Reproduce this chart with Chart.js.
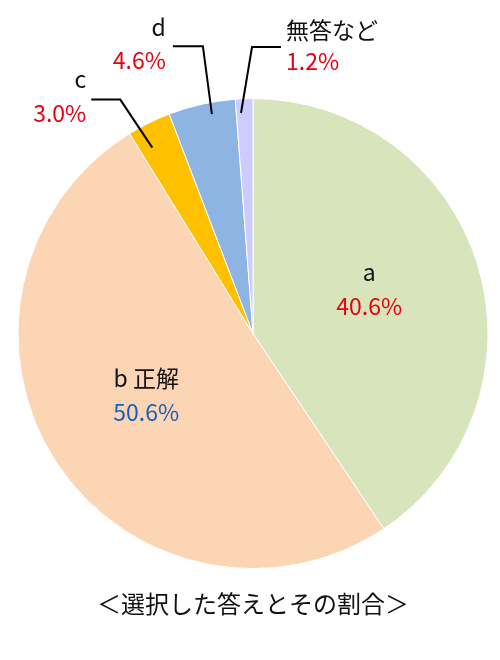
<!DOCTYPE html>
<html>
<head>
<meta charset="utf-8">
<script src="https://cdn.jsdelivr.net/npm/chart.js@4/dist/chart.umd.min.js"></script>
<style>
    html, body { margin: 0; padding: 0; background: #fff; }
    #wrap { width: 500px; height: 660px; }
</style>
</head>
<body>
<div id="wrap"><canvas id="chart"></canvas></div>
<script>
const categories = ["a", "b 正解", "c", "d", "無答など"];
const shares = [40.6, 50.6, 3.0, 4.6, 1.2];
const valueLabels = ["40.6%", "50.6%", "3.0%", "4.6%", "1.2%"];
const titleText = "＜選択した答えとその割合＞";

const fillColors = ["#d8e4bc", "#fcd5b5", "#ffc000", "#8db4e2", "#ccccff"];
const valueColors = ["#e60012", "#1560bd", "#e60012", "#e60012", "#e60012"];
const fontFamily = "'Noto Sans CJK JP', 'Noto Sans', sans-serif";

// inside labels: radius fraction + nudge; outside labels: anchor on the slice and leader line offsets
const labelLayout = [
    { inside: true, at: 0.5, r: 0.53, nudge: [-3, -8] },
    { inside: true, at: 0.5, r: 0.52, nudge: [-4, -4] },
    { inside: false, at: 0.3, r: 0.9, elbow: [-32, -48], run: -29, align: "right", gap: 5, up: 20, down: 14 },
    { inside: false, at: 0.62, r: 0.95, elbow: [-9, -68], run: -30, align: "right", gap: 7, up: 19, down: 14 },
    { inside: false, at: 0.28, r: 0.94, elbow: [11, -66], run: 29, align: "left", gap: 5, up: 17, down: 14 }
];

const pieLabels = {
    id: "pieLabels",
    afterDatasetsDraw(chart) {
        const ctx = chart.ctx;
        const arcs = chart.getDatasetMeta(0).data;
        ctx.save();
        ctx.font = "23px " + fontFamily;
        ctx.textBaseline = "middle";
        arcs.forEach((arc, i) => {
            const p = arc.getProps(["x", "y", "startAngle", "endAngle", "outerRadius"], true);
            const lay = labelLayout[i];
            const ang = p.startAngle + (p.endAngle - p.startAngle) * lay.at;
            const ax = p.x + Math.cos(ang) * p.outerRadius * lay.r;
            const ay = p.y + Math.sin(ang) * p.outerRadius * lay.r;
            if (lay.inside) {
                const cx = ax + lay.nudge[0];
                const cy = ay + lay.nudge[1];
                ctx.textAlign = "center";
                ctx.fillStyle = "#111";
                ctx.fillText(categories[i], cx, cy - 17);
                ctx.fillStyle = valueColors[i];
                ctx.fillText(valueLabels[i], cx, cy + 17);
                return;
            }
            const ex = ax + lay.elbow[0];
            const ey = ay + lay.elbow[1];
            const tx = ex + lay.run;
            ctx.strokeStyle = "#000";
            ctx.lineWidth = 2;
            ctx.beginPath();
            ctx.moveTo(ax, ay);
            ctx.lineTo(ex, ey);
            ctx.lineTo(tx, ey);
            ctx.stroke();
            ctx.textAlign = lay.align;
            const lx = lay.align === "right" ? tx - lay.gap : tx + lay.gap;
            ctx.fillStyle = "#111";
            ctx.fillText(categories[i], lx, ey - lay.up);
            ctx.fillStyle = valueColors[i];
            ctx.fillText(valueLabels[i], lx, ey + lay.down);
        });
        ctx.restore();
    }
};

new Chart(document.getElementById("chart"), {
    type: "pie",
    data: {
        labels: categories,
        datasets: [{
            data: shares,
            backgroundColor: fillColors,
            borderColor: "#ffffff",
            borderWidth: 1,
            hoverOffset: 0
        }]
    },
    options: {
        responsive: true,
        maintainAspectRatio: false,
        animation: false,
        layout: { padding: { left: 17.5, right: 11.5, top: 98, bottom: 42 } },
        plugins: {
            legend: { display: false },
            tooltip: { enabled: false },
            title: {
                display: true,
                text: titleText,
                position: "bottom",
                color: "#111",
                font: { family: fontFamily, size: 24, weight: "normal" },
                padding: { top: 20, bottom: 0 }
            }
        }
    },
    plugins: [pieLabels]
});
</script>
</body>
</html>
